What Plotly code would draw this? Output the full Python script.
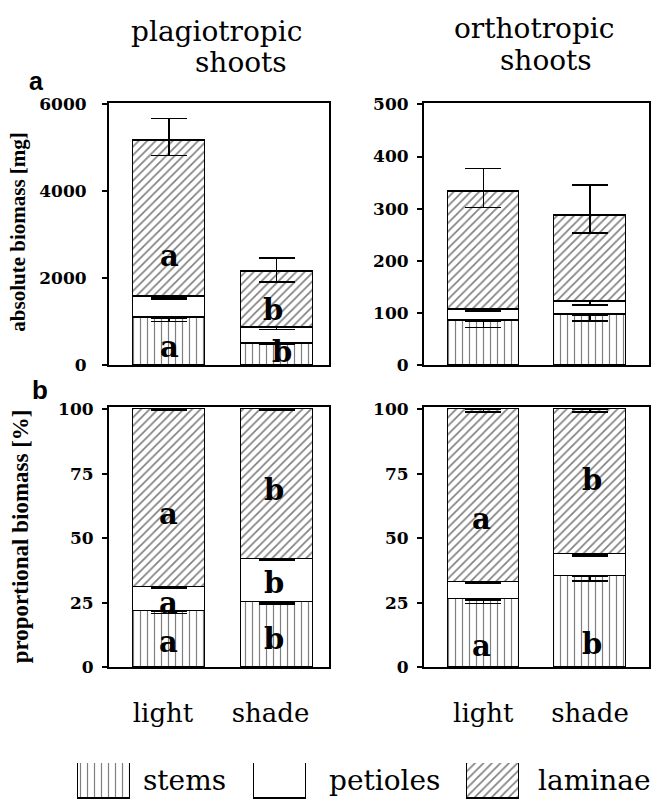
import plotly.graph_objects as go

W, H = 660, 812

# ---------------- data ----------------
groups = ["light", "shade"]

# absolute biomass [mg], plagiotropic shoots
plag_abs_stems = [1092, 504]
plag_abs_petioles = [483, 362]
plag_abs_laminae = [3578, 1281]
plag_abs_stems_err = [80, 18]
plag_abs_petioles_err = [55, 37]
plag_abs_laminae_err_up = [512, 316]
plag_abs_laminae_err_down = [333, 226]

# absolute biomass [mg], orthotropic shoots
ortho_abs_stems = [85, 97]
ortho_abs_petioles = [22.5, 25]
ortho_abs_laminae = [225.5, 164]
ortho_abs_stems_err = [12, 12]
ortho_abs_petioles_err = [3, 6]
ortho_abs_laminae_err_up = [44, 60]
ortho_abs_laminae_err_down = [31, 32]

# proportional biomass [%], plagiotropic shoots
plag_prop_stems = [21.6, 25.2]
plag_prop_petioles = [9.4, 16.7]
plag_prop_laminae = [69.0, 58.1]
plag_prop_stems_err = [0.8, 0.8]
plag_prop_petioles_err = [0.6, 0.6]
plag_prop_laminae_err_up = [0, 0]
plag_prop_laminae_err_down = [0.6, 0.6]

# proportional biomass [%], orthotropic shoots
ortho_prop_stems = [26.1, 35.2]
ortho_prop_petioles = [6.9, 8.3]
ortho_prop_laminae = [67.0, 56.5]
ortho_prop_stems_err = [1.4, 1.8]
ortho_prop_petioles_err = [0.5, 0.5]
ortho_prop_laminae_err_up = [0, 0]
ortho_prop_laminae_err_down = [1.2, 1.2]

# significance letters: (panel, group, y, letter)
letter_panel = ["TL", "TL", "TL", "TL",
                "BL", "BL", "BL", "BL", "BL", "BL",
                "BR", "BR", "BR", "BR"]
letter_group = ["light", "light", "shade", "shade",
                "light", "light", "light", "shade", "shade", "shade",
                "light", "light", "shade", "shade"]
letter_y = [2520, 420, 1266, 300,
            59.2, 25.0, 9.6, 68.7, 32.8, 10.8,
            57.3, 8.4, 72.5, 9.0]
letter_text = ["a", "a", "b", "b",
               "a", "a", "a", "b", "b", "b",
               "a", "a", "b", "b"]
letter_xshift = [0, 0, -4, 5,
                 -1, -1, -1, -3, -3, -3,
                 -2, -2, 2, 2]

parts = ["stems", "petioles", "laminae"]
part_shapes = ["|", "", "/"]
# ---------------------------------------

SERIF = "DejaVu Serif"

def ppx(p):
    return p / W

def ppy(p):
    return 1 - p / H

fig = go.Figure()

def pattern(shape):
    if shape == "|":
        return dict(shape="|", size=7, solidity=0.17, fgcolor="black", bgcolor="white")
    if shape == "/":
        return dict(shape="/", size=6, solidity=0.27, fgcolor="black", bgcolor="white")
    return dict(shape="", fgcolor="black", bgcolor="white")

panels = {
    "TL": dict(xa="x", ya="y",
               vals=[plag_abs_stems, plag_abs_petioles, plag_abs_laminae],
               up=[[0, 0], [0, 0], plag_abs_laminae_err_up],
               down=[plag_abs_stems_err, plag_abs_petioles_err, plag_abs_laminae_err_down]),
    "TR": dict(xa="x2", ya="y2",
               vals=[ortho_abs_stems, ortho_abs_petioles, ortho_abs_laminae],
               up=[[0, 0], [0, 0], ortho_abs_laminae_err_up],
               down=[ortho_abs_stems_err, ortho_abs_petioles_err, ortho_abs_laminae_err_down]),
    "BL": dict(xa="x3", ya="y3",
               vals=[plag_prop_stems, plag_prop_petioles, plag_prop_laminae],
               up=[[0, 0], [0, 0], plag_prop_laminae_err_up],
               down=[plag_prop_stems_err, plag_prop_petioles_err, plag_prop_laminae_err_down]),
    "BR": dict(xa="x4", ya="y4",
               vals=[ortho_prop_stems, ortho_prop_petioles, ortho_prop_laminae],
               up=[[0, 0], [0, 0], ortho_prop_laminae_err_up],
               down=[ortho_prop_stems_err, ortho_prop_petioles_err, ortho_prop_laminae_err_down]),
}

for key, p in panels.items():
    for i, part in enumerate(parts):
        fig.add_trace(go.Bar(
            x=groups, y=p["vals"][i], name=part,
            xaxis=p["xa"], yaxis=p["ya"], width=0.67,
            marker=dict(color="white", line=dict(color="black", width=1.5),
                        pattern=pattern(part_shapes[i])),
            error_y=dict(type="data", symmetric=False, array=p["up"][i],
                         arrayminus=p["down"][i], color="black",
                         thickness=1.5, width=18),
            showlegend=False, hoverinfo="skip",
        ))

# legend swatches on their own hidden axis
legend_box_x = [104, 280, 493]
fig.add_trace(go.Bar(
    x=legend_box_x, y=[1, 1, 1], width=52, xaxis="x5", yaxis="y5",
    marker=dict(color="white", line=dict(color="black", width=1.5),
                pattern=dict(shape=part_shapes, size=[7, 7, 6],
                             solidity=[0.17, 0.17, 0.27],
                             fgcolor="black", bgcolor="white")),
    showlegend=False, hoverinfo="skip",
))

colL = [ppx(109), ppx(329)]
colR = [ppx(424), ppx(649)]
rowT = [ppy(365), ppy(96)]
rowB = [ppy(674), ppy(408)]
xrangeL = [-0.558, 1.488]
xrangeR = [-0.556, 1.553]

def xax(domain, anchor, rng, labels, shift):
    return dict(domain=domain, anchor=anchor, type="category", range=rng,
                showline=True, mirror=True, linecolor="black", linewidth=2,
                showgrid=False, zeroline=False, ticks="",
                showticklabels=labels, ticklabelshift=shift, ticklabelstandoff=22,
                tickfont=dict(family=SERIF, size=26, color="black"))

def yax(domain, anchor, rng, tickvals, standoff):
    return dict(domain=domain, anchor=anchor, range=rng, tickvals=tickvals,
                showline=True, mirror=True, linecolor="black", linewidth=2,
                showgrid=False, zeroline=False, ticks="outside", ticklen=5,
                tickwidth=1.5, tickcolor="black", ticklabelstandoff=standoff,
                tickfont=dict(family=SERIF, size=17, color="black", weight="bold"))

annotations = []

def ann(x, y, text, size, family=SERIF, xref="paper", yref="paper", angle=0,
        xshift=0, weight="normal"):
    annotations.append(dict(x=x, y=y, xref=xref, yref=yref, text=text,
                            showarrow=False, textangle=angle, xshift=xshift,
                            xanchor="center", yanchor="middle",
                            font=dict(family=family, size=size, color="black",
                                      weight=weight)))

# column titles
ann(ppx(216), ppy(23), "plagiotropic", 28)
ann(ppx(241), ppy(55), "shoots", 28)
ann(ppx(534), ppy(20), "orthotropic", 28)
ann(ppx(546), ppy(53), "shoots", 28)

# panel letters
ann(ppx(36), ppy(74), "a", 25, family="Liberation Sans", weight="bold")
ann(ppx(40), ppy(390), "b", 26, family="Liberation Sans", weight="bold")

# y-axis titles
ann(ppx(18), ppy(228), "absolute biomass [mg]", 21, family="Liberation Serif",
    angle=-90, weight="bold")
ann(ppx(20), ppy(540), "proportional biomass [%]", 23, family="Liberation Serif",
    angle=-90, weight="bold")

# significance letters
for pnl, g, yv, t, xs in zip(letter_panel, letter_group, letter_y, letter_text, letter_xshift):
    p = panels[pnl]
    ann(g, yv, t, 29, xref=p["xa"], yref=p["ya"], xshift=xs, weight="bold")

# legend labels
legend_text_x = [185, 384, 594]
for part, lx in zip(parts, legend_text_x):
    ann(ppx(lx), ppy(790), part, 28)

fig.update_layout(
    width=W, height=H,
    margin=dict(l=0, r=0, t=0, b=0),
    paper_bgcolor="white", plot_bgcolor="white",
    barmode="stack", bargap=0,
    xaxis=xax(colL, "y", xrangeL, False, 0),
    yaxis=yax(rowT, "x", [0, 6030], [0, 2000, 4000, 6000], 12),
    xaxis2=xax(colR, "y2", xrangeR, False, 0),
    yaxis2=yax(rowT, "x2", [0, 503], [0, 100, 200, 300, 400, 500], 5),
    xaxis3=xax(colL, "y3", xrangeL, True, -6),
    yaxis3=yax(rowB, "x3", [0, 100.6], [0, 25, 50, 75, 100], 5),
    xaxis4=xax(colR, "y4", xrangeR, True, 0),
    yaxis4=yax(rowB, "x4", [0, 100.6], [0, 25, 50, 75, 100], 5),
    xaxis5=dict(domain=[0, 1], anchor="y5", range=[0, W], visible=False),
    yaxis5=dict(domain=[ppy(809), ppy(772)], anchor="x5", range=[0, 1], visible=False),
    annotations=annotations,
    showlegend=False,
)

fig.write_html(
    "out.html",
    config={"displayModeBar": False},
    post_script="document.body.style.margin='0';document.body.style.overflow='hidden';",
)
